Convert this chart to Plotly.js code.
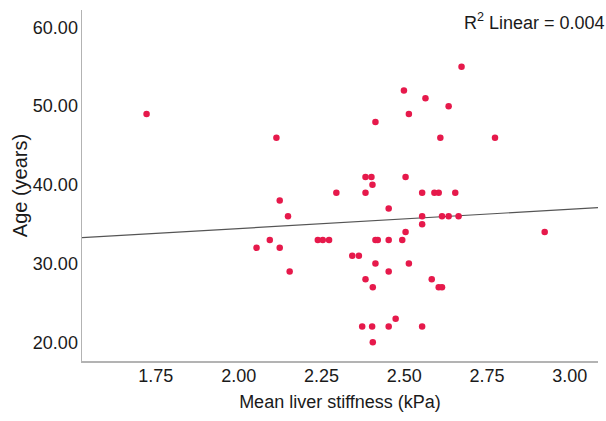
<!DOCTYPE html>
<html>
<head>
<meta charset="utf-8">
<script src="https://cdn.plot.ly/plotly-3.0.1.min.js"></script>
<style>html,body{margin:0;padding:0;background:#fff;}#chart{width:606px;height:421px;}</style>
</head>
<body>
<div id="chart"></div>
<script>
// Mean liver stiffness (kPa)
const stiffness = [1.722, 2.499, 2.564, 2.514, 2.413, 2.114, 2.383, 2.401, 2.504, 2.404,
  2.295, 2.383, 2.554, 2.124, 2.673, 2.634, 2.609, 2.774, 2.591, 2.604,
  2.654, 2.554, 2.614, 2.634, 2.664, 2.554, 2.504, 2.494, 2.924, 2.514,
  2.583, 2.604, 2.614, 2.554, 2.453, 2.149, 2.094, 2.239, 2.254, 2.273,
  2.413, 2.420, 2.453, 2.054, 2.124, 2.343, 2.363, 2.413, 2.154, 2.453,
  2.383, 2.405, 2.474, 2.373, 2.403, 2.453, 2.405];
// Age (years)
const age = [49, 52, 51, 49, 48, 46, 41, 41, 41, 40,
  39, 39, 39, 38, 55, 50, 46, 46, 39, 39,
  39, 36, 36, 36, 36, 35, 34, 33, 34, 30,
  28, 27, 27, 22, 37, 36, 33, 33, 33, 33,
  33, 33, 33, 32, 32, 31, 31, 30, 29, 29,
  28, 27, 23, 22, 22, 22, 20];
// Linear fit
const fitIntercept = 29.55;
const fitSlope = 2.45;
const fitRange = [1.527, 3.085];
const r2Label = "R<sup>2</sup> Linear = 0.004";
const xTicks = [1.75, 2.00, 2.25, 2.50, 2.75, 3.00];
const yTicks = [20, 30, 40, 50, 60];

const FONT = "'Liberation Sans Narrow', 'Arial Narrow', 'Liberation Sans', Arial, sans-serif";

const fitY = fitRange.map(x => fitIntercept + fitSlope * x);

const traces = [
  {
    x: fitRange, y: fitY, type: 'scatter', mode: 'lines',
    line: {color: '#555555', width: 1.2}, hoverinfo: 'skip', showlegend: false
  },
  {
    x: stiffness, y: age, type: 'scatter', mode: 'markers',
    marker: {color: '#e6194b', size: 6.5, line: {width: 0}}, showlegend: false
  }
];

const layout = {
  width: 606, height: 421,
  margin: {l: 82, r: 8, t: 10, b: 60},
  paper_bgcolor: '#ffffff', plot_bgcolor: '#ffffff',
  font: {family: FONT, color: '#1a1a1a', size: 18},
  xaxis: {
    range: fitRange, showgrid: false, zeroline: false,
    showline: true, linecolor: '#b3b3b3', linewidth: 1.5,
    ticks: '', tickvals: xTicks, ticktext: xTicks.map(v => v.toFixed(2)),
    tickfont: {family: FONT, size: 18, color: '#1a1a1a'},
    ticklabelstandoff: -2,
    title: {text: 'Mean liver stiffness (kPa)', font: {family: FONT, size: 18, color: '#1a1a1a'}, standoff: 10}
  },
  yaxis: {
    range: [17.62, 62.22], showgrid: false, zeroline: false,
    showline: true, linecolor: '#b3b3b3', linewidth: 1.5,
    ticks: '', tickvals: yTicks, ticktext: yTicks.map(v => v.toFixed(2)),
    tickfont: {family: FONT, size: 18, color: '#1a1a1a'},
    ticklabelstandoff: -1,
    title: {text: 'Age (years)', font: {family: FONT, size: 20, color: '#1a1a1a'}, standoff: 0}
  },
  annotations: [{
    text: r2Label, xref: 'paper', yref: 'paper', x: 1.0, y: 1.0,
    xanchor: 'right', yanchor: 'top', showarrow: false, xshift: 9, yshift: 2,
    font: {family: FONT, size: 18, color: '#1a1a1a'}
  }]
};

Plotly.newPlot('chart', traces, layout, {staticPlot: true, displayModeBar: false});
</script>
</body>
</html>
